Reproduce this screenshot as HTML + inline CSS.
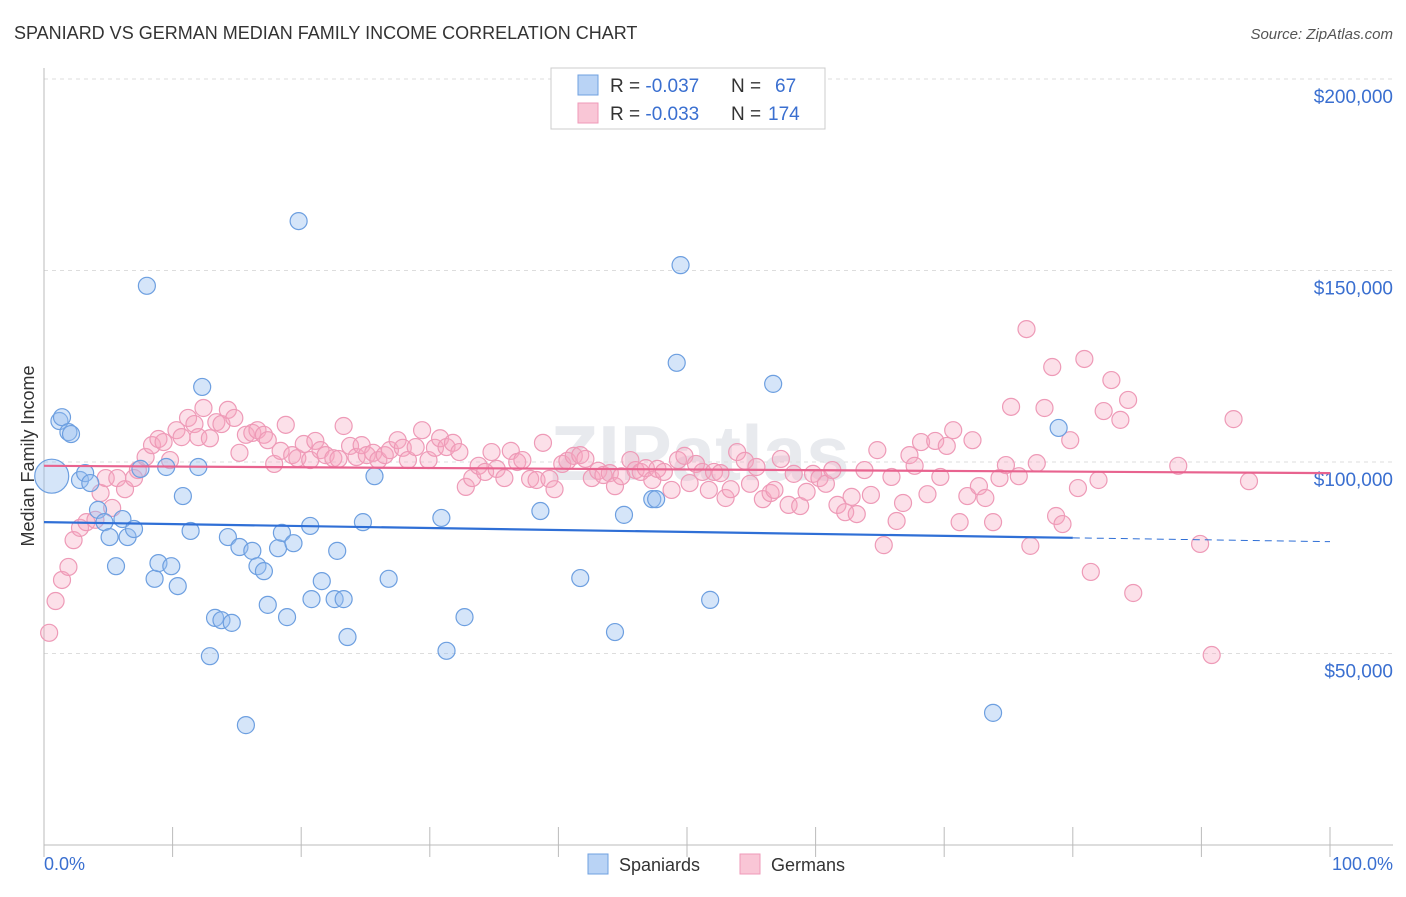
<!DOCTYPE html>
<html><head><meta charset="utf-8"><style>
body{margin:0;background:#fff;font-family:"Liberation Sans",sans-serif;}
svg text{font-family:"Liberation Sans",sans-serif;}
</style></head><body>
<svg id="chart" width="1406" height="892" viewBox="0 0 1406 892" xmlns="http://www.w3.org/2000/svg">
<text x="14" y="39" font-size="18" fill="#333">SPANIARD VS GERMAN MEDIAN FAMILY INCOME CORRELATION CHART</text>
<text x="1393" y="39" font-size="15" fill="#555" font-style="italic" text-anchor="end">Source: ZipAtlas.com</text>
<text x="700" y="480" font-size="78" fill="#e8eaee" text-anchor="middle" font-weight="bold">ZIPatlas</text>
<g id="grid"></g>
<g id="axes"></g>
<g id="pinkPts"></g>
<g id="bluePts"></g>
<g id="trends"></g>
<text transform="translate(34,456) rotate(-90)" font-size="18" fill="#333" text-anchor="middle">Median Family Income</text>
<text x="44" y="870" font-size="18" fill="#3a6fd0">0.0%</text>
<text x="1393" y="870" font-size="18" fill="#3a6fd0" text-anchor="end">100.0%</text>
<g>
<rect x="551" y="68" width="274" height="61" fill="#fff" stroke="#ccc"/>
<rect x="578" y="75" width="20" height="20" fill="#b9d3f5" stroke="#6fa0e0"/>
<rect x="578" y="103" width="20" height="20" fill="#f9c6d6" stroke="#ef9ab8"/>
<text x="610" y="92" font-size="19" fill="#333">R = <tspan fill="#3a6fd0">-0.037</tspan><tspan x="731">N = </tspan><tspan x="775" fill="#3a6fd0">67</tspan></text>
<text x="610" y="120" font-size="19" fill="#333">R = <tspan fill="#3a6fd0">-0.033</tspan><tspan x="731">N = </tspan><tspan x="768" fill="#3a6fd0">174</tspan></text>
</g>
<g>
<rect x="588" y="854" width="20" height="20" fill="#b9d3f5" stroke="#6fa0e0"/>
<text x="619" y="871" font-size="18" fill="#333">Spaniards</text>
<rect x="740" y="854" width="20" height="20" fill="#f9c6d6" stroke="#ef9ab8"/>
<text x="771" y="871" font-size="18" fill="#333">Germans</text>
</g>
</svg>
<script>
const yTicks=[50000,100000,150000,200000];
const yTickLabels=["$50,000","$100,000","$150,000","$200,000"];
const blueX=[0.6,1.2,1.4,1.9,2.1,2.8,3.2,3.6,4.2,4.7,5.1,5.6,6.1,6.5,7.0,7.5,8.0,8.6,8.9,9.5,9.9,10.4,10.8,11.4,12.0,12.3,12.9,13.3,13.8,14.3,14.6,15.2,15.7,16.2,16.6,17.1,17.4,18.2,18.5,18.9,19.4,19.8,20.7,20.8,21.6,22.6,22.8,23.3,23.6,24.8,25.7,26.8,30.9,31.3,32.7,38.6,41.7,44.4,45.1,47.3,47.6,49.2,49.5,51.8,56.7,73.8,78.9];
const blueY=[96.3,110.7,111.7,107.8,107.3,95.3,97.1,94.5,87.5,84.3,80.4,72.8,85.1,80.4,82.5,98.2,146.0,69.5,73.6,98.7,72.8,67.6,91.1,82.0,98.7,119.6,49.3,59.3,58.7,80.4,58.0,77.8,31.3,76.8,72.8,71.5,62.7,77.5,81.5,59.5,78.8,162.9,83.3,64.2,68.9,64.2,76.8,64.2,54.3,84.3,96.3,69.5,85.4,50.7,59.5,87.2,69.7,55.6,86.2,90.3,90.3,125.9,151.4,64.0,120.4,34.5,108.9];
const pinkX=[0.4,0.9,1.4,1.9,2.3,2.8,3.3,4.0,4.4,4.8,5.3,5.7,6.3,7.0,7.3,7.9,8.4,8.9,9.3,9.8,10.3,10.7,11.2,11.7,12.0,12.4,12.9,13.4,13.8,14.3,14.8,15.2,15.7,16.2,16.6,17.1,17.4,17.9,18.4,18.8,19.3,19.7,20.2,20.7,21.1,21.5,21.9,22.5,22.9,23.3,23.8,24.3,24.7,25.1,25.6,26.0,26.5,26.9,27.5,27.9,28.3,28.9,29.4,29.9,30.4,30.8,31.3,31.8,32.3,32.8,33.3,33.8,34.3,34.8,35.2,35.8,36.3,36.8,37.2,37.8,38.3,38.8,39.3,39.7,40.3,40.7,41.2,41.7,42.1,42.6,43.1,43.5,44.0,44.4,44.9,45.6,46.0,46.4,46.8,47.3,47.7,48.2,48.8,49.3,49.8,50.2,50.7,51.2,51.7,52.1,52.6,53.0,53.4,53.9,54.5,54.9,55.4,55.9,56.5,56.8,57.3,57.9,58.3,58.8,59.3,59.8,60.3,60.8,61.3,61.7,62.3,62.8,63.2,63.8,64.3,64.8,65.3,65.9,66.3,66.8,67.3,67.7,68.2,68.7,69.3,69.7,70.2,70.7,71.2,71.8,72.2,72.7,73.2,73.8,74.3,74.8,75.2,75.8,76.4,76.7,77.2,77.8,78.4,78.7,79.2,79.8,80.4,80.9,81.4,82.0,82.4,83.0,83.7,84.3,84.7,88.2,89.9,90.8,92.5,93.7];
const pinkY=[55.4,63.7,69.2,72.6,79.6,82.8,84.3,84.9,91.9,95.8,88.0,95.8,92.9,95.8,97.9,101.3,104.4,106.0,105.2,100.5,108.3,106.5,111.5,109.9,106.5,114.1,106.2,110.4,109.9,113.6,111.5,102.4,107.1,107.6,108.3,107.1,105.7,99.5,102.9,109.7,101.8,101.0,104.7,100.5,105.5,103.1,101.8,101.0,100.8,109.4,104.2,101.3,104.4,101.8,102.4,100.5,101.8,103.1,105.7,103.7,100.5,103.9,108.3,100.5,103.7,106.2,103.9,105.0,102.6,93.5,95.8,99.0,97.4,102.6,98.2,95.8,102.9,100.0,100.5,95.6,95.3,105.0,95.6,92.9,99.5,100.3,101.6,101.8,100.8,95.8,97.7,96.6,97.1,93.7,96.3,100.5,97.9,97.4,98.4,95.3,98.2,97.4,92.7,100.5,101.6,94.5,99.5,97.4,92.7,97.4,97.1,90.6,92.9,102.6,100.3,94.3,98.7,90.3,91.9,92.7,100.8,88.8,96.9,88.5,92.2,96.9,95.8,94.3,97.9,88.8,86.9,90.9,86.4,97.9,91.4,103.1,78.3,96.1,84.6,89.3,101.8,99.0,105.2,91.6,105.5,96.1,104.2,108.3,84.3,91.1,105.7,93.7,90.6,84.3,95.8,99.2,114.4,96.3,134.7,78.1,99.7,114.1,124.8,85.9,83.8,105.7,93.2,126.9,71.3,95.3,113.3,121.4,111.0,116.2,65.8,99.0,78.6,49.6,111.2,95.0];
const blueTrend=[84.3,80.2,79.2]; // at 0%, 80%, 100% (thousands)
const blueTrendX=[0,80,100];
const pinkTrend=[99.0,97.1];
const pinkTrendX=[0,100];

const NS="http://www.w3.org/2000/svg";
const X0=44,X1=1330,YB=845,PX50=191.5;
const xs=p=>X0+(X1-X0)*p/100;
const ys=v=>YB-v*PX50/50000;
function mk(tag,attrs,parent){const e=document.createElementNS(NS,tag);for(const k in attrs)e.setAttribute(k,attrs[k]);parent.appendChild(e);return e;}
const grid=document.getElementById('grid');
yTicks.forEach((t,i)=>{
  const l=mk('line',{x1:44,x2:1393,y1:ys(t),y2:ys(t),stroke:'#ddd','stroke-dasharray':'4,4'},grid);
  
  
  const tx=mk('text',{x:1393,y:ys(t)+24,'font-size':19,fill:'#3a6fd0','text-anchor':'end'},grid);
  tx.textContent=yTickLabels[i];
  
  
});
const axes=document.getElementById('axes');
const xa=mk('line',{x1:44,x2:1393,y1:845,y2:845,stroke:'#bbb'},axes);


const ya=mk('line',{x1:44,x2:44,y1:68,y2:845,stroke:'#bbb'},axes);


for(let i=0;i<=10;i++){const t=mk('line',{x1:xs(i*10),x2:xs(i*10),y1:827,y2:857,stroke:'#bbb'},axes);
  
  }
const pg=document.getElementById('pinkPts');
pinkX.forEach((p,i)=>{const c=mk('circle',{cx:xs(p),cy:ys(pinkY[i]*1000),r:8.5,fill:'rgba(245,165,192,0.35)',stroke:'#ee9ab7','stroke-width':1.2},pg);
  
  });
const bg=document.getElementById('bluePts');
blueX.forEach((p,i)=>{const c=mk('circle',{cx:xs(p),cy:ys(blueY[i]*1000),r:i===0?17:8.5,fill:'rgba(150,190,240,0.4)',stroke:'#6d9fe0','stroke-width':1.2},bg);
  
  });
const tg=document.getElementById('trends');
const b1=mk('line',{x1:xs(blueTrendX[0]),y1:ys(blueTrend[0]*1000),x2:xs(blueTrendX[1]),y2:ys(blueTrend[1]*1000),stroke:'#2f6fd6','stroke-width':2.2},tg);


const b2=mk('line',{x1:xs(blueTrendX[1]),y1:ys(blueTrend[1]*1000),x2:xs(blueTrendX[2]),y2:ys(blueTrend[2]*1000),stroke:'#2f6fd6','stroke-width':1,'stroke-dasharray':'7,5'},tg);


const p1=mk('line',{x1:xs(pinkTrendX[0]),y1:ys(pinkTrend[0]*1000),x2:xs(pinkTrendX[1]),y2:ys(pinkTrend[1]*1000),stroke:'#e8638f','stroke-width':2.2},tg);


</script>
</body></html>
